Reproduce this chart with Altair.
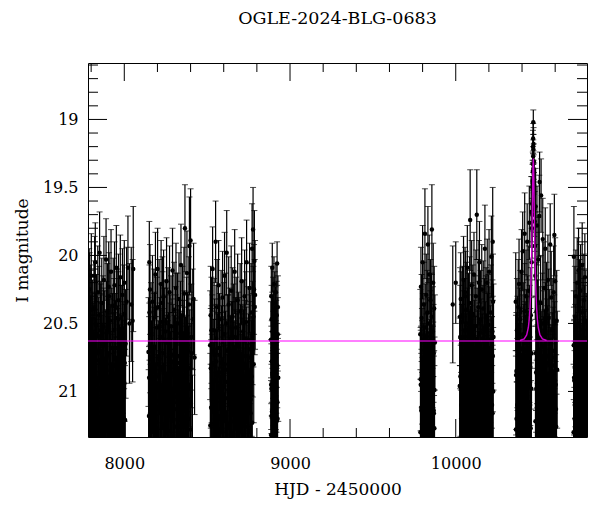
import altair as alt
import pandas as pd

# ---------------- data (HJD-2450000, I mag, error) ----------------
A_t = [7786, 7789, 7791, 7794, 7796, 7799, 7801, 7804, 7806, 7809,
       7812, 7814, 7817, 7819, 7822, 7825, 7827, 7830, 7832, 7835,
       7838, 7840, 7843, 7846, 7848, 7851, 7853, 7856, 7859, 7861,
       7864, 7866, 7869, 7872, 7874, 7877, 7880, 7882, 7885, 7888,
       7890, 7893, 7896, 7898, 7901, 7904, 7906, 7909, 7912, 7914,
       7917, 7920, 7922, 7925, 7928, 7930, 7933, 7936, 7938, 7941,
       7944, 7946, 7949, 7952, 7954, 7957, 7960, 7962, 7965, 7968,
       7970, 7973, 7976, 7978, 7981, 7984, 7986, 7989, 7992, 7995,
       7998, 8001, 8004, 8008, 8014, 8022, 8031, 8042, 8050, 8054]
A_m = [20.62, 21.05, 20.31, 20.88, 21.42, 20.47, 20.15, 20.96, 21.21, 20.58,
       20.74, 21.55, 20.39, 20.82, 21.12, 20.05, 20.69, 21.33, 20.51, 20.93,
       21.48, 20.27, 20.71, 21.08, 20.44, 19.98, 20.86, 21.26, 20.59, 21.61,
       20.35, 20.77, 21.17, 20.52, 20.99, 20.18, 21.39, 20.66, 20.84, 21.02,
       20.03, 20.57, 21.29, 20.41, 20.90, 21.52, 20.23, 20.73, 21.14, 20.48,
       20.96, 20.12, 21.36, 20.63, 20.81, 21.07, 20.37, 21.45, 20.55, 20.22,
       20.92, 21.24, 20.68, 20.09, 21.58, 20.46, 20.79, 21.10, 20.33, 20.87,
       21.31, 20.54, 20.16, 21.00, 20.61, 20.89, 21.47, 20.29, 20.75, 21.19,
       20.43, 20.94, 21.37, 20.65, 20.34, 20.09, 20.50, 20.36, 20.48, 20.10]
A_e = [0.38, 0.47, 0.33, 0.44, 0.58, 0.36, 0.31, 0.45, 0.52, 0.40,
       0.39, 0.60, 0.35, 0.43, 0.50, 0.29, 0.41, 0.55, 0.37, 0.46,
       0.59, 0.34, 0.40, 0.49, 0.36, 0.30, 0.44, 0.53, 0.38, 0.62,
       0.33, 0.42, 0.51, 0.37, 0.47, 0.32, 0.56, 0.40, 0.43, 0.48,
       0.30, 0.38, 0.54, 0.35, 0.45, 0.60, 0.33, 0.41, 0.50, 0.37,
       0.46, 0.31, 0.56, 0.39, 0.43, 0.49, 0.35, 0.58, 0.38, 0.32,
       0.45, 0.53, 0.40, 0.31, 0.61, 0.36, 0.42, 0.50, 0.34, 0.44,
       0.55, 0.37, 0.31, 0.47, 0.39, 0.45, 0.59, 0.34, 0.41, 0.52,
       0.36, 0.46, 0.56, 0.40, 0.40, 0.38, 0.44, 0.42, 0.45, 0.46]
A2_t = ("7787 7790 7792 7795 7797 7800 7802 7805 7807 7810 7813 7815 7818 7820 7823 7826 7828 7831 "
        "7833 7836 7839 7841 7844 7847 7849 7852 7854 7857 7860 7862 7865 7867 7870 7873 7875 7878 "
        "7881 7883 7886 7889 7891 7894 7897 7899 7902 7905 7907 7910 7913 7915 7918 7921 7923 7926 "
        "7929 7931 7934 7937 7939 7942 7945 7947 7950 7953 7955 7958 7961 7963 7966 7969 7971 7974 "
        "7977 7979 7982 7985 7987 7990 7993 7996 7999 8002 8005 7788 7798 7821 7858 7908 7964 8000")
A2_m = ("21.31 20.86 21.64 21.12 20.74 21.48 20.95 21.77 21.2 20.67 21.55 21.03 20.81 21.39 21.86 "
        "20.92 21.26 21.6 20.58 21.15 21.71 20.99 21.43 20.77 21.34 21.9 21.08 20.7 21.52 21.22 "
        "20.89 21.67 21.01 21.41 20.63 21.29 21.82 20.96 21.18 21.57 20.84 21.36 21.74 21.06 20.72 "
        "21.47 21.25 20.91 21.62 21.13 20.8 21.5 21.93 21.04 20.68 21.38 21.19 21.7 20.87 21.45 "
        "21.1 20.76 21.58 21.28 20.94 21.8 21.16 20.83 21.42 21.65 20.98 21.33 21.07 20.6 21.53 "
        "21.24 21.85 20.9 21.37 21.0 21.61 20.79 21.21 20.25 20.4 20.15 20.55 20.3 20.47 20.2")
A2_e = ("0.55 0.45 0.63 0.5 0.42 0.59 0.47 0.68 0.52 0.4 0.61 0.48 0.44 0.57 0.7 0.46 0.53 0.62 "
        "0.39 0.51 0.66 0.47 0.58 0.43 0.56 0.72 0.49 0.41 0.6 0.52 0.45 0.64 0.48 0.57 0.39 0.54 "
        "0.69 0.46 0.51 0.61 0.44 0.56 0.67 0.49 0.42 0.59 0.53 0.46 0.63 0.5 0.44 0.6 0.73 0.48 "
        "0.4 0.57 0.51 0.66 0.45 0.58 0.5 0.43 0.62 0.54 0.46 0.69 0.51 0.44 0.58 0.64 0.47 0.55 "
        "0.49 0.38 0.61 0.53 0.71 0.45 0.56 0.48 0.63 0.43 0.52 0.3 0.33 0.29 0.36 0.32 0.35 0.31")

B_t = [8146, 8149, 8152, 8155, 8158, 8161, 8164, 8167, 8170, 8173,
       8176, 8179, 8182, 8185, 8188, 8191, 8194, 8197, 8201, 8204,
       8207, 8210, 8213, 8216, 8219, 8222, 8225, 8228, 8231, 8234,
       8237, 8240, 8243, 8246, 8249, 8252, 8255, 8258, 8261, 8264,
       8267, 8270, 8273, 8276, 8279, 8282, 8285, 8288, 8291, 8294,
       8297, 8300, 8303, 8306, 8309, 8312, 8315, 8318, 8321, 8324,
       8327, 8330, 8333, 8336, 8339, 8342, 8345, 8348, 8351, 8354,
       8357, 8360, 8363, 8366, 8369, 8372, 8375, 8378, 8381, 8384,
       8387, 8390, 8393, 8397, 8400, 8404, 8408, 8413, 8418, 8424]
B_m = [20.71, 21.18, 20.42, 20.25, 21.36, 20.58, 20.93, 21.07, 20.34, 20.81,
       21.49, 20.46, 20.67, 21.22, 20.14, 20.89, 21.30, 20.53, 20.10, 20.97,
       21.41, 20.38, 20.76, 21.11, 20.60, 20.21, 21.55, 20.84, 20.49, 21.03,
       20.30, 20.72, 21.27, 20.56, 20.91, 21.44, 20.19, 20.64, 21.15, 20.45,
       20.86, 21.59, 20.27, 20.69, 21.04, 20.52, 20.98, 21.34, 20.11, 20.78,
       21.21, 20.40, 20.88, 21.50, 20.62, 20.24, 20.95, 21.13, 20.50, 20.83,
       21.38, 20.32, 20.74, 21.09, 20.57, 20.07, 20.90, 21.25, 20.44, 20.80,
       21.46, 20.28, 20.66, 19.80, 20.99, 21.32, 20.54, 20.13, 21.06, 20.70,
       21.20, 20.36, 19.93, 20.95, 19.89, 20.60, 21.40, 20.47, 20.32, 20.75]
B_e = [0.40, 0.51, 0.35, 0.33, 0.56, 0.38, 0.45, 0.48, 0.34, 0.43,
       0.59, 0.36, 0.40, 0.52, 0.31, 0.44, 0.55, 0.37, 0.30, 0.46,
       0.57, 0.35, 0.41, 0.50, 0.39, 0.32, 0.61, 0.44, 0.37, 0.48,
       0.34, 0.41, 0.53, 0.38, 0.45, 0.58, 0.32, 0.40, 0.50, 0.36,
       0.44, 0.62, 0.34, 0.40, 0.48, 0.37, 0.46, 0.55, 0.31, 0.42,
       0.52, 0.35, 0.44, 0.60, 0.39, 0.33, 0.46, 0.50, 0.37, 0.43,
       0.56, 0.34, 0.41, 0.49, 0.38, 0.30, 0.45, 0.53, 0.36, 0.42,
       0.58, 0.34, 0.40, 0.32, 0.47, 0.55, 0.38, 0.31, 0.49, 0.41,
       0.52, 0.35, 0.36, 0.45, 0.38, 0.39, 0.57, 0.37, 0.41, 0.42]
B2_t = ("8147 8150 8153 8156 8159 8162 8165 8168 8171 8174 8177 8180 8183 8186 8189 8192 8195 8199 "
        "8202 8205 8208 8211 8214 8217 8220 8223 8226 8229 8232 8235 8238 8241 8244 8247 8250 8253 "
        "8256 8259 8262 8265 8268 8271 8274 8277 8280 8283 8286 8289 8292 8295 8298 8301 8304 8307 "
        "8310 8313 8316 8319 8322 8325 8328 8331 8334 8337 8340 8343 8346 8349 8352 8355 8358 8361 "
        "8364 8367 8370 8373 8376 8379 8382 8385 8388 8391 8395 8399 8402 8406 8411 8151 8230 8311")
B2_m = ("21.42 20.9 21.18 21.66 20.75 21.3 21.05 21.79 20.85 21.5 21.22 20.68 21.61 21.0 21.37 "
        "21.88 20.8 21.27 21.56 20.94 21.13 21.73 20.71 21.46 21.08 20.97 21.68 21.24 20.82 21.53 "
        "21.35 20.62 21.16 21.84 21.02 20.88 21.44 21.71 20.93 21.29 21.59 20.77 21.11 21.4 21.92 "
        "20.99 21.21 20.73 21.63 21.33 20.86 21.48 21.04 21.76 20.69 21.26 21.55 20.91 21.14 21.82 "
        "21.38 20.79 21.07 21.64 20.96 21.31 21.5 20.84 21.19 21.7 21.03 20.74 21.45 21.23 20.89 "
        "21.58 21.12 21.86 20.66 21.36 20.98 21.62 20.83 21.28 21.09 20.72 21.47 20.05 20.35 20.5")
B2_e = ("0.58 0.45 0.52 0.65 0.41 0.55 0.48 0.69 0.44 0.6 0.53 0.4 0.63 0.47 0.57 0.71 0.43 0.54 "
        "0.62 0.46 0.5 0.67 0.4 0.59 0.49 0.46 0.66 0.53 0.43 0.6 0.56 0.38 0.51 0.7 0.47 0.44 "
        "0.58 0.67 0.45 0.54 0.62 0.42 0.5 0.57 0.74 0.46 0.52 0.41 0.64 0.55 0.44 0.59 0.48 0.68 "
        "0.4 0.53 0.61 0.45 0.5 0.7 0.56 0.42 0.49 0.64 0.46 0.55 0.6 0.43 0.52 0.66 0.47 0.41 "
        "0.58 0.52 0.44 0.62 0.5 0.71 0.39 0.56 0.46 0.63 0.43 0.54 0.49 0.4 0.59 0.3 0.34 0.37")

C_t = [8518, 8521, 8524, 8527, 8530, 8533, 8536, 8539, 8542, 8545,
       8548, 8551, 8554, 8557, 8560, 8563, 8566, 8569, 8572, 8575,
       8578, 8581, 8584, 8587, 8590, 8593, 8596, 8599, 8602, 8605,
       8608, 8611, 8614, 8618, 8621, 8624, 8627, 8630, 8633, 8636,
       8639, 8642, 8645, 8648, 8651, 8654, 8657, 8660, 8663, 8666,
       8669, 8672, 8675, 8678, 8681, 8684, 8687, 8690, 8693, 8696,
       8699, 8702, 8705, 8708, 8711, 8714, 8717, 8720, 8723, 8726,
       8729, 8732, 8735, 8738, 8741, 8744, 8747, 8750, 8753, 8756,
       8759, 8762, 8765, 8768, 8771, 8774, 8777, 8781, 8785, 8789]
C_m = [20.66, 20.44, 21.12, 20.80, 21.37, 20.10, 20.92, 21.50, 20.55, 20.73,
       21.20, 19.90, 20.61, 21.04, 20.38, 21.43, 20.86, 20.22, 21.28, 20.68,
       20.97, 21.56, 20.47, 20.79, 21.09, 20.31, 20.90, 21.35, 20.58, 20.15,
       21.17, 20.84, 20.50, 19.98, 21.46, 20.70, 20.99, 20.36, 21.24, 20.63,
       20.88, 21.52, 20.26, 20.76, 21.01, 20.45, 21.31, 20.60, 20.94, 20.12,
       21.40, 20.72, 20.53, 21.14, 20.85, 20.33, 21.58, 20.67, 20.96, 21.22,
       20.41, 20.78, 21.06, 20.19, 20.91, 21.34, 20.56, 20.83, 21.47, 20.30,
       20.74, 21.10, 20.49, 20.05, 20.98, 21.26, 20.62, 20.87, 21.41, 20.24,
       20.69, 21.16, 20.42, 20.93, 19.95, 20.57, 19.81, 20.80, 20.04, 20.29]
C_e = [0.40, 0.36, 0.50, 0.43, 0.56, 0.31, 0.45, 0.59, 0.38, 0.41,
       0.52, 0.30, 0.39, 0.48, 0.35, 0.57, 0.44, 0.33, 0.54, 0.40,
       0.46, 0.61, 0.36, 0.42, 0.49, 0.34, 0.45, 0.55, 0.38, 0.32,
       0.51, 0.43, 0.37, 0.31, 0.58, 0.41, 0.47, 0.35, 0.53, 0.39,
       0.44, 0.60, 0.33, 0.42, 0.48, 0.36, 0.55, 0.39, 0.46, 0.31,
       0.57, 0.41, 0.37, 0.50, 0.44, 0.34, 0.62, 0.40, 0.46, 0.52,
       0.35, 0.42, 0.48, 0.32, 0.45, 0.55, 0.38, 0.43, 0.58, 0.34,
       0.41, 0.50, 0.37, 0.31, 0.47, 0.53, 0.39, 0.44, 0.57, 0.33,
       0.40, 0.51, 0.36, 0.45, 0.33, 0.38, 0.31, 0.43, 0.37, 0.40]
C2_t = ("8519 8522 8525 8528 8531 8534 8537 8540 8543 8546 8549 8552 8555 8558 8561 8564 8567 8570 "
        "8573 8576 8579 8582 8585 8588 8591 8594 8597 8600 8603 8606 8609 8612 8616 8619 8622 8625 "
        "8628 8631 8634 8637 8640 8643 8646 8649 8652 8655 8658 8661 8664 8667 8670 8673 8676 8679 "
        "8682 8685 8688 8691 8694 8697 8700 8703 8706 8709 8712 8715 8718 8721 8724 8727 8730 8733 "
        "8736 8739 8742 8745 8748 8751 8754 8757 8760 8763 8766 8769 8772 8775 8779 8783 8787 8526")
C2_m = ("21.25 20.83 21.6 21.07 20.7 21.44 21.15 21.81 20.92 21.34 21.02 21.68 20.78 21.21 21.53 "
        "20.88 21.39 21.9 21.0 20.73 21.47 21.18 21.72 20.86 21.3 21.58 20.97 21.12 21.65 20.8 "
        "21.41 21.05 21.84 20.93 21.27 21.55 20.69 21.36 21.1 21.77 20.9 21.22 21.49 21.01 20.76 "
        "21.63 21.32 20.95 21.17 21.7 20.84 21.43 21.08 21.87 20.99 21.28 21.56 20.72 21.38 21.13 "
        "21.66 20.87 21.24 21.51 21.04 20.79 21.75 21.2 20.94 21.46 21.09 21.61 20.81 21.35 21.16 "
        "21.8 20.91 21.29 21.52 20.75 21.4 21.06 21.69 20.89 21.23 20.64 20.45 20.25 20.38 20.55")
C2_e = ("0.53 0.44 0.62 0.49 0.41 0.58 0.51 0.69 0.45 0.56 0.47 0.66 0.42 0.52 0.6 0.45 0.57 0.72 "
        "0.47 0.41 0.59 0.51 0.67 0.44 0.55 0.62 0.46 0.5 0.64 0.43 0.57 0.48 0.7 0.45 0.54 0.61 "
        "0.4 0.56 0.5 0.68 0.45 0.53 0.59 0.47 0.42 0.63 0.55 0.46 0.51 0.66 0.44 0.58 0.49 0.71 "
        "0.46 0.54 0.61 0.41 0.56 0.5 0.65 0.44 0.53 0.6 0.48 0.42 0.68 0.52 0.45 0.59 0.49 0.63 "
        "0.43 0.56 0.51 0.69 0.45 0.54 0.6 0.41 0.57 0.48 0.66 0.44 0.53 0.4 0.37 0.33 0.35 0.39")

D_t = [8885, 8886, 8887, 8888, 8889, 8890, 8892, 8893, 8894, 8895, 8897, 8898,
       8899, 8900, 8902, 8903, 8904, 8905, 8907, 8908, 8909, 8910, 8912, 8913,
       8914, 8915, 8917, 8918, 8919, 8920, 8922, 8923, 8924, 8926, 8927, 8929]
D_m = [20.62, 20.95, 20.30, 21.18, 20.47, 20.78, 21.35, 20.09, 20.56, 20.88, 21.05, 20.40,
       20.70, 21.26, 20.52, 20.21, 20.93, 21.12, 20.65, 20.35, 20.83, 21.41, 20.49, 20.74,
       21.00, 20.27, 20.60, 20.97, 21.22, 20.44, 20.06, 20.81, 21.08, 20.58, 20.38, 20.90]
D_e = [0.28, 0.33, 0.22, 0.38, 0.25, 0.30, 0.42, 0.18, 0.27, 0.32, 0.35, 0.24,
       0.29, 0.40, 0.26, 0.20, 0.33, 0.37, 0.28, 0.23, 0.31, 0.44, 0.26, 0.30,
       0.34, 0.21, 0.27, 0.33, 0.39, 0.25, 0.16, 0.31, 0.36, 0.27, 0.23, 0.32]
D2_t = ("8885.5 8886.5 8887.5 8889.5 8891 8892.5 8894.5 8896 8897.5 8899.5 8901 8902.5 8904.5 8906 "
        "8907.5 8909.5 8911 8912.5 8914.5 8916 8917.5 8919.5 8921 8925")
D2_m = ("21.32 21.55 20.98 21.7 21.15 21.44 20.87 21.62 21.25 21.03 21.5 21.19 21.78 20.92 21.38 "
        "21.6 21.1 21.47 20.95 21.29 21.66 21.07 21.4 21.2")
D2_e = ("0.4 0.46 0.33 0.52 0.37 0.44 0.31 0.49 0.39 0.35 0.45 0.38 0.55 0.32 0.42 0.48 0.36 0.44 "
        "0.33 0.4 0.5 0.35 0.43 0.39")

E_t = [9786, 9788, 9790, 9792, 9794, 9796, 9798, 9800, 9802, 9804, 9806, 9808, 9810, 9812, 9814,
       9816, 9818, 9820, 9822, 9824, 9826, 9828, 9830, 9832, 9834, 9836, 9838, 9840, 9842, 9844,
       9846, 9848, 9850, 9852, 9854, 9856, 9858, 9860, 9862, 9864, 9866, 9868, 9870, 9872, 9874,
       9982, 10000]
E_m = [20.58, 20.91, 20.23, 21.14, 20.46, 20.75, 21.32, 20.05, 20.62, 20.87, 21.06, 20.36, 20.70, 21.24, 19.84,
       20.53, 20.97, 21.45, 20.29, 20.80, 21.10, 20.42, 20.66, 19.92, 20.94, 21.20, 20.50, 20.14, 20.84, 21.37,
       20.60, 20.33, 20.77, 21.02, 20.45, 19.81, 20.89, 21.28, 20.56, 20.20, 20.72, 21.16, 20.39, 20.99, 20.64,
       20.36, 20.20]
E_e = [0.33, 0.38, 0.29, 0.42, 0.32, 0.36, 0.46, 0.27, 0.34, 0.37, 0.41, 0.31, 0.35, 0.44, 0.33,
       0.32, 0.39, 0.50, 0.30, 0.37, 0.41, 0.31, 0.35, 0.28, 0.38, 0.43, 0.33, 0.29, 0.37, 0.47,
       0.34, 0.30, 0.36, 0.40, 0.32, 0.33, 0.38, 0.45, 0.33, 0.29, 0.36, 0.42, 0.31, 0.39, 0.35,
       0.43, 0.30]
E2_t = ("9787 9789 9791 9793 9795 9797 9799 9801 9803 9805 9807 9809 9811 9813 9815 9817 9819 9821 "
        "9823 9825 9827 9829 9831 9833 9835 9837 9839 9841 9843 9845 9847 9849 9851 9853 9855 9857 "
        "9859 9861 9863 9865 9867 9869 9871")
E2_m = ("21.3 20.95 21.52 21.12 21.7 20.86 21.41 21.2 21.63 21.0 21.35 21.82 20.91 21.25 21.58 "
        "21.07 21.46 20.98 21.74 21.16 21.38 20.89 21.55 21.28 21.03 21.67 21.19 20.93 21.49 21.1 "
        "21.79 21.33 20.97 21.6 21.22 21.44 21.05 21.71 20.9 21.37 21.14 21.56 21.27")
E2_e = ("0.46 0.4 0.52 0.43 0.58 0.38 0.49 0.45 0.55 0.41 0.47 0.62 0.39 0.45 0.53 0.42 0.5 0.41 "
        "0.6 0.44 0.48 0.38 0.54 0.46 0.41 0.57 0.44 0.39 0.51 0.43 0.63 0.47 0.4 0.55 0.45 0.5 "
        "0.42 0.59 0.38 0.48 0.43 0.53 0.46")

F_t = [10024, 10027, 10030, 10032, 10035, 10037, 10040, 10042, 10044, 10047,
       10049, 10051, 10054, 10056, 10058, 10061, 10063, 10065, 10068, 10070,
       10072, 10075, 10077, 10079, 10082, 10084, 10087, 10089, 10091, 10094,
       10096, 10098, 10101, 10103, 10105, 10108, 10110, 10112, 10115, 10117,
       10119, 10122, 10124, 10127, 10129, 10131, 10134, 10136, 10138, 10141,
       10143, 10145, 10148, 10150, 10152, 10155, 10157, 10159, 10162, 10164,
       10166, 10169, 10171, 10173, 10176, 10178, 10180, 10183, 10185, 10187,
       10190, 10192, 10194, 10197, 10199, 10201, 10204, 10206, 10208, 10211,
       10213, 10215, 10217, 10219, 10221, 10223, 10224, 10225, 10226, 10228]
F_m = [20.96, 20.60, 20.32, 20.49, 21.15, 20.78, 20.44, 21.33, 20.66, 20.18,
       20.90, 21.48, 20.55, 20.27, 21.07, 20.71, 20.40, 21.24, 20.85, 20.09,
       20.63, 21.39, 20.50, 20.95, 21.12, 20.35, 19.74, 20.80, 21.29, 20.58,
       20.22, 21.02, 20.69, 20.43, 21.55, 20.88, 20.14, 20.75, 21.19, 20.52,
       20.97, 20.30, 21.41, 19.70, 20.64, 21.08, 20.84, 20.38, 21.26, 20.57,
       20.05, 20.92, 21.35, 20.47, 20.73, 21.14, 20.25, 20.82, 21.50, 20.61,
       20.39, 20.99, 21.22, 20.54, 19.95, 20.76, 21.31, 20.45, 20.87, 21.04,
       20.20, 20.68, 21.44, 20.51, 20.93, 20.12, 21.18, 20.62, 20.80, 21.37,
       20.42, 20.01, 20.90, 21.10, 20.56, 19.90, 20.74, 20.34, 21.00, 20.60]
F_e = [0.50, 0.38, 0.34, 0.37, 0.50, 0.42, 0.36, 0.55, 0.40, 0.32,
       0.45, 0.59, 0.38, 0.33, 0.48, 0.41, 0.35, 0.53, 0.44, 0.31,
       0.39, 0.57, 0.37, 0.46, 0.50, 0.34, 0.37, 0.43, 0.54, 0.38,
       0.33, 0.47, 0.40, 0.36, 0.61, 0.44, 0.31, 0.42, 0.51, 0.37,
       0.46, 0.34, 0.57, 0.33, 0.40, 0.49, 0.43, 0.35, 0.53, 0.38,
       0.30, 0.45, 0.56, 0.36, 0.41, 0.50, 0.33, 0.43, 0.60, 0.39,
       0.35, 0.47, 0.52, 0.37, 0.32, 0.42, 0.55, 0.36, 0.44, 0.48,
       0.32, 0.40, 0.58, 0.37, 0.46, 0.31, 0.51, 0.39, 0.43, 0.56,
       0.35, 0.30, 0.45, 0.49, 0.38, 0.40, 0.41, 0.35, 0.47, 0.39]
F2_t = ("10025 10028 10031 10033 10036 10038 10041 10043 10045 10048 10050 10052 10055 10057 10059 "
        "10062 10064 10066 10069 10071 10073 10076 10078 10080 10083 10085 10088 10090 10092 10095 "
        "10097 10099 10102 10104 10106 10109 10111 10113 10116 10118 10120 10123 10125 10128 10130 "
        "10132 10135 10137 10139 10142 10144 10146 10149 10151 10153 10156 10158 10160 10163 10165 "
        "10167 10170 10172 10174 10177 10179 10181 10184 10186 10188 10191 10193 10195 10198 10200 "
        "10202 10205 10207 10209 10212 10214 10216 10218 10220 10222 10026 10060 10100 10140 10182")
F2_m = ("21.36 20.89 21.62 21.1 21.45 20.78 21.28 21.75 21.02 21.5 20.93 21.2 21.68 21.07 21.4 "
        "20.85 21.58 21.15 21.85 20.97 21.32 21.53 21.0 21.72 20.82 21.26 21.47 21.12 21.64 20.9 "
        "21.38 21.8 21.05 21.22 21.56 20.95 21.43 21.17 21.7 20.87 21.3 21.6 21.08 21.49 20.8 "
        "21.24 21.88 21.03 21.41 21.14 21.66 20.92 21.35 21.52 21.0 21.76 21.19 20.84 21.46 21.27 "
        "21.61 21.04 20.96 21.39 21.83 21.11 21.55 20.88 21.31 21.69 21.06 21.44 21.21 20.91 21.57 "
        "21.34 21.78 20.99 21.25 21.48 21.09 21.63 20.86 21.37 21.16 20.45 20.3 20.6 20.2 20.52")
F2_e = ("0.55 0.44 0.63 0.49 0.57 0.42 0.53 0.68 0.47 0.6 0.44 0.51 0.65 0.47 0.56 0.42 0.62 0.5 "
        "0.71 0.45 0.55 0.61 0.46 0.67 0.41 0.53 0.59 0.49 0.64 0.43 0.56 0.7 0.47 0.52 0.62 0.44 "
        "0.58 0.5 0.67 0.42 0.55 0.63 0.48 0.6 0.4 0.52 0.73 0.47 0.57 0.49 0.65 0.43 0.56 0.61 "
        "0.46 0.69 0.51 0.41 0.59 0.53 0.64 0.47 0.45 0.57 0.71 0.49 0.62 0.42 0.55 0.66 0.47 0.58 "
        "0.52 0.43 0.62 0.56 0.7 0.45 0.53 0.6 0.48 0.64 0.41 0.56 0.5 0.36 0.33 0.38 0.31 0.37")

G_t = [10362, 10364, 10367, 10369, 10372, 10374, 10377, 10379, 10382, 10385,
       10387, 10389, 10392, 10394, 10397, 10399, 10402, 10404, 10407, 10409,
       10412, 10414, 10416, 10419, 10421, 10424, 10426, 10429, 10431, 10434,
       10436, 10439, 10441, 10444, 10446, 10449, 10451, 10453, 10455, 10457,
       10458, 10460, 10461, 10462, 10463, 10464, 10465, 10465.5, 10466, 10466.5,
       10467, 10467.5, 10468, 10468.5, 10469, 10469.5, 10470, 10471, 10472, 10473,
       10474, 10476, 10478,
       10480, 10482, 10484, 10486, 10488, 10490, 10492, 10494, 10496, 10498,
       10500, 10502, 10504, 10506, 10508, 10510, 10512, 10515, 10517, 10520,
       10522, 10525, 10527, 10530, 10532, 10535, 10537, 10540, 10542, 10545,
       10548, 10550, 10553, 10556, 10558, 10561, 10564, 10567, 10570, 10573,
       10576, 10579, 10582, 10585, 10588, 10591, 10594, 10595, 10597, 10600,
       10603, 10606, 10609, 10612]
G_m = [20.34, 20.88, 21.20, 20.55, 20.71, 21.42, 20.38, 20.96, 20.21, 20.63,
       21.10, 20.47, 20.82, 21.33, 20.12, 20.69, 21.05, 19.97, 20.58, 20.90,
       21.25, 20.41, 19.84, 20.76, 21.48, 20.30, 20.64, 21.01, 19.90, 20.52,
       20.85, 21.17, 20.26, 19.76, 20.60, 20.93, 21.38, 20.44, 19.68, 20.72,
       20.05, 19.80, 19.62, 19.70, 19.50, 19.45, 19.38, 19.47, 19.20, 19.33,
       19.14, 19.27, 19.02, 19.22, 19.36, 19.18, 19.40, 19.31, 19.55, 19.48,
       19.66, 19.75, 19.93,
       20.15, 19.64, 20.72, 20.98, 20.41, 19.78, 21.22, 20.56, 20.87, 20.03,
       21.36, 20.62, 19.71, 19.46, 20.79, 21.08, 20.35, 19.56, 20.92, 21.44,
       20.50, 19.88, 20.67, 21.15, 20.24, 20.83, 21.30, 19.95, 20.58, 21.02,
       20.40, 20.74, 21.50, 20.18, 20.90, 20.46, 21.20, 20.65, 19.92, 20.99,
       20.31, 21.12, 20.55, 20.86, 21.40, 20.27, 20.70, 19.85, 20.75, 20.19,
       20.95, 21.26, 20.48, 20.84]
G_e = [0.36, 0.44, 0.50, 0.38, 0.41, 0.56, 0.35, 0.46, 0.33, 0.39,
       0.48, 0.36, 0.43, 0.54, 0.31, 0.40, 0.47, 0.29, 0.38, 0.45,
       0.52, 0.35, 0.30, 0.42, 0.58, 0.34, 0.39, 0.47, 0.28, 0.37,
       0.44, 0.50, 0.33, 0.27, 0.38, 0.45, 0.55, 0.35, 0.26, 0.41,
       0.25, 0.22, 0.20, 0.20, 0.17, 0.15, 0.14, 0.15, 0.12, 0.13,
       0.11, 0.12, 0.09, 0.11, 0.13, 0.12, 0.14, 0.13, 0.16, 0.16,
       0.20, 0.22, 0.25,
       0.32, 0.28, 0.42, 0.46, 0.36, 0.29, 0.51, 0.38, 0.44, 0.31,
       0.55, 0.39, 0.30, 0.22, 0.43, 0.48, 0.35, 0.27, 0.45, 0.57,
       0.37, 0.30, 0.41, 0.50, 0.34, 0.43, 0.54, 0.30, 0.38, 0.47,
       0.35, 0.42, 0.59, 0.33, 0.45, 0.36, 0.52, 0.40, 0.30, 0.46,
       0.34, 0.49, 0.38, 0.44, 0.56, 0.34, 0.41, 0.30, 0.41, 0.32,
       0.46, 0.53, 0.37, 0.43]
G2_t = ("10363 10366 10368 10371 10373 10376 10378 10381 10383 10386 10388 10391 10393 10396 10398 "
        "10401 10403 10406 10408 10411 10413 10415 10418 10420 10423 10425 10428 10430 10433 10435 "
        "10438 10440 10443 10445 10448 10450 10452 10454 10456 10481 10483 10485 10487 10489 10491 "
        "10493 10495 10497 10499 10501 10503 10505 10507 10509 10511 10514 10516 10519 10521 10524 "
        "10526 10529 10531 10534 10536 10539 10541 10544 10547 10549 10552 10555 10557 10560 10563 "
        "10566 10569 10572 10575 10578 10581 10584 10587 10590 10593 10596 10599 10602 10605 10608")
G2_m = ("21.28 20.85 21.55 21.1 20.73 21.42 21.0 21.67 20.9 21.33 21.18 21.74 20.8 21.25 21.5 "
        "20.95 21.38 21.82 21.05 20.77 21.46 21.2 21.6 20.88 21.3 21.71 21.02 20.7 21.44 21.15 "
        "21.58 20.93 21.36 21.8 21.08 20.82 21.27 21.52 20.98 21.22 21.63 20.86 21.4 21.12 21.77 "
        "20.96 21.31 21.56 21.04 20.74 21.48 21.19 21.69 20.91 21.35 21.07 21.6 20.84 21.26 21.5 "
        "21.0 21.78 20.89 21.42 21.16 21.65 20.94 21.29 21.54 21.03 20.79 21.45 21.21 21.72 20.87 "
        "21.37 21.1 21.59 20.97 21.32 21.84 21.06 20.81 21.47 21.24 21.62 20.92 21.34 21.13 21.68")
G2_e = ("0.54 0.43 0.62 0.49 0.41 0.58 0.46 0.66 0.44 0.55 0.51 0.68 0.42 0.53 0.6 0.45 0.56 0.7 "
        "0.47 0.41 0.59 0.52 0.63 0.44 0.55 0.67 0.47 0.4 0.58 0.5 0.62 0.45 0.56 0.7 0.48 0.43 "
        "0.54 0.6 0.46 0.52 0.64 0.44 0.57 0.5 0.68 0.45 0.55 0.61 0.47 0.41 0.59 0.51 0.66 0.44 "
        "0.56 0.48 0.63 0.43 0.53 0.6 0.46 0.69 0.44 0.57 0.5 0.65 0.45 0.54 0.61 0.47 0.42 0.58 "
        "0.52 0.67 0.44 0.56 0.49 0.62 0.46 0.55 0.71 0.48 0.43 0.59 0.53 0.64 0.45 0.56 0.5 0.66")

H_t = [10712, 10713, 10715, 10717, 10719, 10721, 10723, 10725, 10727, 10729,
       10731, 10733, 10735, 10737, 10739, 10741, 10743, 10745, 10747, 10749,
       10751, 10753, 10755, 10757, 10759, 10761, 10763, 10765, 10767, 10769,
       10771, 10773, 10775, 10777, 10779, 10781, 10783, 10785, 10787, 10789]
H_m = [20.66, 20.01, 20.92, 21.20, 20.45, 20.78, 21.38, 20.30, 20.59, 20.95,
       21.10, 20.20, 20.71, 21.27, 20.50, 20.11, 20.86, 21.05, 20.38, 20.64,
       21.45, 20.26, 20.80, 20.97, 21.15, 20.42, 20.07, 20.73, 21.30, 20.55,
       20.89, 20.33, 21.02, 20.61, 20.16, 20.84, 21.22, 20.48, 20.69, 20.93]
H_e = [0.40, 0.37, 0.45, 0.50, 0.37, 0.42, 0.55, 0.34, 0.39, 0.46,
       0.48, 0.33, 0.41, 0.52, 0.37, 0.31, 0.44, 0.47, 0.35, 0.40,
       0.57, 0.34, 0.42, 0.46, 0.49, 0.36, 0.31, 0.41, 0.53, 0.38,
       0.44, 0.34, 0.47, 0.39, 0.32, 0.43, 0.51, 0.37, 0.41, 0.45]
H2_t = ("10711 10714 10716 10718 10720 10722 10724 10726 10728 10730 10732 10734 10736 10738 10740 "
        "10742 10744 10746 10748 10750 10752 10754 10756 10758 10760 10762 10764 10766 10768 10770 "
        "10772 10774 10776 10778 10780 10782 10784 10786 10788 10790")
H2_m = ("21.3 20.9 21.55 21.1 21.72 20.85 21.4 21.2 21.63 21.0 21.35 21.8 20.95 21.25 21.5 21.05 "
        "21.45 20.88 21.68 21.15 21.38 20.92 21.58 21.28 21.03 21.75 21.18 20.97 21.48 21.12 21.66 "
        "21.33 20.9 21.6 21.22 21.42 21.07 21.7 20.94 21.36")
H2_e = ("0.5 0.42 0.58 0.47 0.64 0.41 0.53 0.49 0.6 0.44 0.52 0.67 0.43 0.5 0.57 0.45 0.55 0.41 "
        "0.63 0.48 0.53 0.42 0.6 0.51 0.45 0.66 0.49 0.43 0.56 0.47 0.62 0.52 0.42 0.59 0.5 0.55 "
        "0.46 0.64 0.43 0.53")

# model light curve
baseline_mag = 20.63
model_t = [10388, 10413, 10428, 10438, 10443, 10448, 10452, 10455, 10458, 10460,
           10462, 10464, 10466, 10468, 10470, 10472, 10474, 10476, 10478, 10481,
           10484, 10488, 10493, 10498, 10508, 10523, 10548]
model_m = [20.624, 20.613, 20.584, 20.53, 20.476, 20.386, 20.27, 20.15, 19.985, 19.845,
           19.682, 19.506, 19.352, 19.287, 19.352, 19.506, 19.682, 19.845, 19.985, 20.15,
           20.27, 20.386, 20.476, 20.53, 20.584, 20.613, 20.624]

# axis ticks
x_major = [8000, 9000, 10000]
x_minor = [7800, 8200, 8400, 8600, 8800, 9200, 9400, 9600, 9800, 10200, 10400, 10600]
y_major = [19, 19.5, 20, 20.5, 21]
y_minor = [18.6, 18.7, 18.8, 18.9, 19.1, 19.2, 19.3, 19.4, 19.6, 19.7, 19.8, 19.9,
           20.1, 20.2, 20.3, 20.4, 20.6, 20.7, 20.8, 20.9, 21.1, 21.2, 21.3]


# ---------------- build table ----------------
def nums(s):
    return [float(v) for v in s.split()]


seasons = [(A_t, A_m, A_e), (nums(A2_t), nums(A2_m), nums(A2_e)),
           (B_t, B_m, B_e), (nums(B2_t), nums(B2_m), nums(B2_e)),
           (C_t, C_m, C_e), (nums(C2_t), nums(C2_m), nums(C2_e)),
           (D_t, D_m, D_e), (nums(D2_t), nums(D2_m), nums(D2_e)),
           (E_t, E_m, E_e), (nums(E2_t), nums(E2_m), nums(E2_e)),
           (F_t, F_m, F_e), (nums(F2_t), nums(F2_m), nums(F2_e)),
           (G_t, G_m, G_e), (nums(G2_t), nums(G2_m), nums(G2_e)),
           (H_t, H_m, H_e), (nums(H2_t), nums(H2_m), nums(H2_e))]
rows = []
for i, (ts, ms, es) in enumerate(seasons):
    assert len(ts) == len(ms) == len(es), (i, len(ts), len(ms), len(es))
    for t, m, e in zip(ts, ms, es):
        rows.append({"t": t, "m": m, "e": e})
df = pd.DataFrame(rows)
assert len(model_t) == len(model_m)

W, H = 499, 374
FONT = "DejaVu Serif"
xs = alt.Scale(domain=[7781, 10792], nice=False, zero=False)
ys = alt.Scale(domain=[18.585, 21.335], reverse=True, nice=False, zero=False)

xaxis = alt.Axis(values=x_major, format="d", ticks=False, tickSize=0, domain=False, grid=False,
                 labelFont=FONT, labelFontSize=16, labelColor="black", labelPadding=18,
                 title="HJD - 2450000", titleFont=FONT, titleFontSize=17, titleFontWeight="normal",
                 titleColor="black", titleBaseline="alphabetic", titleY=57, titleX=W / 2)
yaxis = alt.Axis(values=y_major, format="~g", ticks=False, tickSize=0, domain=False, grid=False,
                 labelFont=FONT, labelFontSize=16, labelColor="black", labelPadding=10,
                 title="I magnitude", titleFont=FONT, titleFontSize=17, titleFontWeight="normal",
                 titleColor="black", titleAngle=270, titleBaseline="alphabetic", titleAlign="center",
                 titleX=-61, titleY=H / 2)

X = alt.X("t:Q", scale=xs, axis=xaxis)
errs = alt.Chart(df).transform_calculate(lo="datum.m - datum.e", hi="datum.m + datum.e")
BAR = "black"

bars = errs.mark_rule(color=BAR, strokeWidth=1.2, clip=True).encode(
    x=X, y=alt.Y("lo:Q", scale=ys, axis=yaxis), y2="hi:Q")
cap_lo = errs.mark_tick(orient="horizontal", size=6, thickness=1, color=BAR, clip=True).encode(
    x=X, y=alt.Y("lo:Q", scale=ys, axis=yaxis))
cap_hi = errs.mark_tick(orient="horizontal", size=6, thickness=1, color=BAR, clip=True).encode(
    x=X, y=alt.Y("hi:Q", scale=ys, axis=yaxis))

pts = alt.Chart(df).mark_circle(size=20, color="black", opacity=1, clip=True).encode(
    x=X, y=alt.Y("m:Q", scale=ys, axis=yaxis))

base_line = alt.Chart(pd.DataFrame({"m": [baseline_mag]})).mark_rule(
    color="#ff00ff", opacity=0.5, strokeWidth=2).encode(y=alt.Y("m:Q", scale=ys, axis=yaxis))

model = alt.Chart(pd.DataFrame({"t": model_t, "m": model_m})).mark_line(
    color="#ff00ff", opacity=0.8, strokeWidth=1.4, clip=True).encode(
    x=X, y=alt.Y("m:Q", scale=ys, axis=yaxis))


def xticks(vals, length):
    d = alt.Chart(pd.DataFrame({"t": vals}))
    top = d.mark_rule(color="black", strokeWidth=1).encode(
        x=X, y=alt.value(0), y2=alt.value(length))
    bot = d.mark_rule(color="black", strokeWidth=1).encode(
        x=X, y=alt.value(H), y2=alt.value(H - length))
    return [top, bot]


def yticks(vals, length):
    d = alt.Chart(pd.DataFrame({"m": vals}))
    left = d.mark_rule(color="black", strokeWidth=1).encode(
        y=alt.Y("m:Q", scale=ys, axis=yaxis), x=alt.value(0), x2=alt.value(length))
    right = d.mark_rule(color="black", strokeWidth=1).encode(
        y=alt.Y("m:Q", scale=ys, axis=yaxis), x=alt.value(W), x2=alt.value(W - length))
    return [left, right]


tick_layers = xticks(x_major, 18) + xticks(x_minor, 9) + yticks(y_major, 19) + yticks(y_minor, 10)

chart = alt.layer(bars, cap_lo, cap_hi, pts, base_line, model, *tick_layers).properties(
    width=W, height=H,
    background="white",
    padding={"left": 80, "top": 55, "right": 5, "bottom": 67},
    autosize=alt.AutoSizeParams(type="none"),
    title=alt.TitleParams("OGLE-2024-BLG-0683", font=FONT, fontSize=17.5, fontWeight="normal",
                          color="black", anchor="middle", baseline="alphabetic", offset=21),
).configure_view(stroke="black", strokeWidth=1).configure_axis(
    labelFont=FONT, titleFont=FONT, labelFontSize=16, titleFontSize=17,
    labelColor="black", titleColor="black", titleFontWeight="normal")

chart.save("out.html", embed_options={"renderer": "svg", "actions": False})
